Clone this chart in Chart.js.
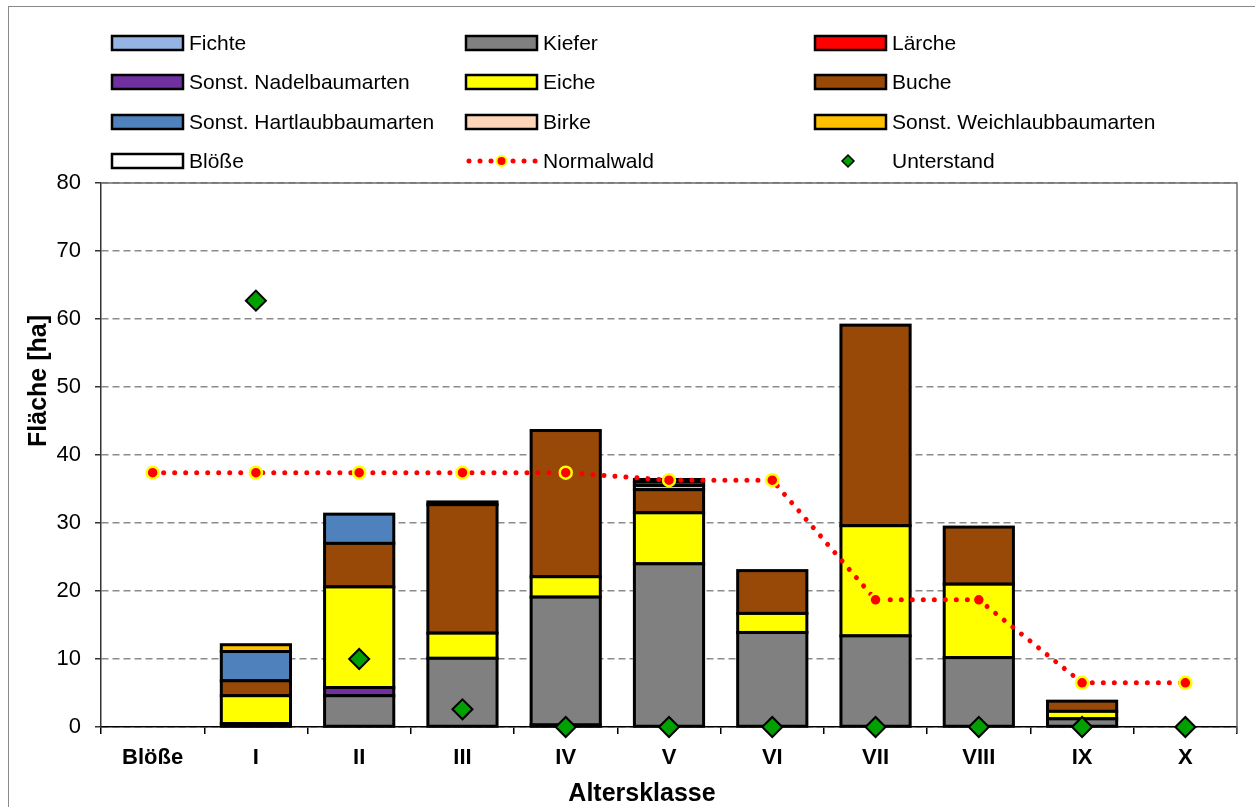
<!DOCTYPE html>
<html>
<head>
<meta charset="utf-8">
<title>Altersklassen</title>
<script src="https://cdn.jsdelivr.net/npm/chart.js@4/dist/chart.umd.min.js"></script>
<style>
  html, body { margin: 0; padding: 0; background: #fff; }
  #wrap { width: 1255px; height: 807px; position: relative; }
</style>
</head>
<body>
<div id="wrap"><canvas id="c" width="1255" height="807"></canvas></div>
<script>
// Altersklassen (x categories)
const categories = ['Blöße', 'I', 'II', 'III', 'IV', 'V', 'VI', 'VII', 'VIII', 'IX', 'X'];

// Fläche je Baumart und Altersklasse [ha]
const fichte     = [null, null, null, null, 0.3, null, null, null, null, null, null];
const kiefer     = [null, 0.5, 4.6, 10.1, 18.8, 24.0, 13.9, 13.4, 10.2, 1.2, null];
const laerche    = [null, null, null, null, null, null, null, null, null, null, null];
const nadelSonst = [null, null, 1.2, null, null, null, null, null, null, null, null];
const eiche      = [null, 4.1, 14.8, 3.7, 3.0, 7.5, 2.8, 16.2, 10.8, 1.1, null];
const buche      = [null, 2.2, 6.4, 18.9, 21.5, 3.4, 6.3, 29.5, 8.4, 1.5, null];
const hartlaub   = [null, 4.3, 4.3, 0.4, null, null, null, null, null, null, null];
const birke      = [null, null, null, null, null, 0.6, null, null, null, null, null];
const weichlaub  = [null, 1.0, null, null, null, 0.5, null, null, null, null, null];
const bloesse    = [null, null, null, null, null, 0.4, null, null, null, null, null];

// Normalwald-Verteilung und Unterstand [ha]
const normalwald = [37.4, 37.4, 37.4, 37.4, 37.4, 36.3, 36.3, 18.7, 18.7, 6.5, 6.5];
const unterstand = [null, 62.7, 10.0, 2.6, 0, 0, 0, 0, 0, 0, 0];

// Achse
const yTicks = [0, 10, 20, 30, 40, 50, 60, 70, 80];

const FONT = "'Liberation Sans', Arial, Helvetica, sans-serif";
const BAR_EDGE = 3;

function barSet(label, data, color) {
  return {
    type: 'bar', label, data,
    backgroundColor: color,
    borderColor: '#000000',
    borderWidth: 0,
    barPercentage: 0.67,
    categoryPercentage: 1.0,
    order: 2
  };
}

const datasets = [
  barSet('Fichte', fichte, '#95B3E3'),
  barSet('Kiefer', kiefer, '#808080'),
  barSet('Lärche', laerche, '#FF0000'),
  barSet('Sonst. Nadelbaumarten', nadelSonst, '#7030A0'),
  barSet('Eiche', eiche, '#FFFF00'),
  barSet('Buche', buche, '#984807'),
  barSet('Sonst. Hartlaubbaumarten', hartlaub, '#4F81BD'),
  barSet('Birke', birke, '#FDD5B8'),
  barSet('Sonst. Weichlaubbaumarten', weichlaub, '#FFC000'),
  barSet('Blöße', bloesse, '#FFFFFF'),
  {
    type: 'line', label: 'Normalwald', data: normalwald,
    borderColor: '#FF0000', borderWidth: 5,
    borderDash: [0.01, 11], borderCapStyle: 'round',
    pointRadius: 6, pointBackgroundColor: '#FF0000',
    pointBorderColor: '#FFFF00', pointBorderWidth: 2.5,
    tension: 0, fill: false, stack: 'nw', order: 1, clip: false
  },
  {
    type: 'line', label: 'Unterstand', data: unterstand,
    showLine: false, pointStyle: 'rectRot', pointRadius: 10,
    pointBackgroundColor: '#00A000', pointBorderColor: '#000000',
    pointBorderWidth: 2, stack: 'us', order: 0, clip: false
  }
];

// Outline each bar segment centred on its edges, so neighbouring segments share one line
const barOutlines = {
  id: 'barOutlines',
  afterDatasetDraw(chart, args) {
    const meta = args.meta;
    if (meta.type !== 'bar') return;
    const ctx = chart.ctx;
    ctx.save();
    ctx.strokeStyle = '#000';
    ctx.lineWidth = BAR_EDGE;
    meta.data.forEach((el, i) => {
      const v = chart.data.datasets[args.index].data[i];
      if (v === null || v === undefined) return;
      const p = el.getProps(['x', 'y', 'base', 'width'], true);
      const top = Math.min(p.y, p.base), h = Math.abs(p.base - p.y);
      ctx.strokeRect(p.x - p.width / 2, top, p.width, h);
    });
    ctx.restore();
  }
};

// Frame, plot border, legend grid and axis titles
const decorations = {
  id: 'decorations',
  beforeDraw(chart) {
    const ctx = chart.ctx;
    ctx.save();
    ctx.fillStyle = '#ffffff';
    ctx.fillRect(0, 0, chart.width, chart.height);
    ctx.strokeStyle = '#8a8a8a';
    ctx.lineWidth = 1;
    ctx.strokeRect(8.5, 6.5, 1400, 1000);
    ctx.restore();
  },
  afterDraw(chart) {
    const ctx = chart.ctx;
    const a = chart.chartArea;
    ctx.save();
    // plot area border (top and right)
    ctx.strokeStyle = '#6e6e6e';
    ctx.lineWidth = 1.5;
    ctx.beginPath();
    ctx.moveTo(a.left, a.top);
    ctx.lineTo(a.right, a.top);
    ctx.lineTo(a.right, a.bottom + 6);
    ctx.stroke();

    // legend: 3 columns x 4 rows
    const colX = [112, 466, 815];
    const rowY = [43, 82, 122, 161];
    ctx.font = '21px ' + FONT;
    ctx.textBaseline = 'middle';
    ctx.textAlign = 'left';
    chart.data.datasets.forEach((ds, i) => {
      const x = colX[i % 3];
      const y = rowY[Math.floor(i / 3)];
      if (ds.type === 'bar') {
        ctx.fillStyle = ds.backgroundColor;
        ctx.fillRect(x, y - 7, 71, 14);
        ctx.strokeStyle = '#000';
        ctx.lineWidth = 2.5;
        ctx.strokeRect(x, y - 7, 71, 14);
      } else if (ds.showLine !== false) {
        ctx.strokeStyle = ds.borderColor;
        ctx.lineWidth = 5;
        ctx.lineCap = 'round';
        ctx.setLineDash([0.01, 11]);
        ctx.beginPath();
        ctx.moveTo(x + 3, y);
        ctx.lineTo(x + 70, y);
        ctx.stroke();
        ctx.setLineDash([]);
        ctx.beginPath();
        ctx.arc(x + 35.5, y, 5, 0, Math.PI * 2);
        ctx.fillStyle = ds.pointBackgroundColor;
        ctx.fill();
        ctx.lineWidth = 2;
        ctx.strokeStyle = ds.pointBorderColor;
        ctx.stroke();
      } else {
        const cx = x + 33, r = 6;
        ctx.beginPath();
        ctx.moveTo(cx - r, y);
        ctx.lineTo(cx, y - r);
        ctx.lineTo(cx + r, y);
        ctx.lineTo(cx, y + r);
        ctx.closePath();
        ctx.fillStyle = ds.pointBackgroundColor;
        ctx.fill();
        ctx.lineWidth = 1.5;
        ctx.strokeStyle = ds.pointBorderColor;
        ctx.stroke();
      }
      ctx.fillStyle = '#000';
      ctx.fillText(ds.label, x + 77, y + 1);
    });

    // axis titles
    ctx.fillStyle = '#000';
    ctx.font = 'bold 25px ' + FONT;
    ctx.textAlign = 'center';
    ctx.textBaseline = 'middle';
    ctx.fillText('Altersklasse', 642, 794);
    ctx.translate(39, 381);
    ctx.rotate(-Math.PI / 2);
    ctx.fillText('Fläche [ha]', 0, 0);
    ctx.restore();
  }
};

new Chart(document.getElementById('c'), {
  data: { labels: categories, datasets },
  options: {
    responsive: false,
    devicePixelRatio: 1,
    animation: false,
    layout: { padding: { top: 183, right: 18, left: 0, bottom: 0 } },
    plugins: { legend: { display: false }, tooltip: { enabled: false } },
    scales: {
      x: {
        stacked: true,
        grid: { offset: true, drawOnChartArea: false, drawTicks: true, tickLength: 7, color: '#000', lineWidth: 1.5 },
        border: { color: '#000', width: 1.5 },
        ticks: { color: '#000', font: { family: FONT, size: 22, weight: 'bold' }, padding: 11, maxRotation: 0, autoSkip: false },
        afterFit(s) { s.height = 80; }
      },
      y: {
        stacked: true,
        min: 0, max: 80,
        afterBuildTicks(s) { s.ticks = yTicks.map(v => ({ value: v })); },
        ticks: { color: '#000', font: { family: FONT, size: 22 }, padding: 14 },
        grid: { color: '#8c8c8c', lineWidth: 1.5, tickLength: 6, tickColor: '#333', drawTicks: true },
        border: { dash: [7, 4], color: '#333', width: 1.5 },
        afterFit(s) { s.width = 101; }
      }
    }
  },
  plugins: [barOutlines, decorations]
});
</script>
</body>
</html>
